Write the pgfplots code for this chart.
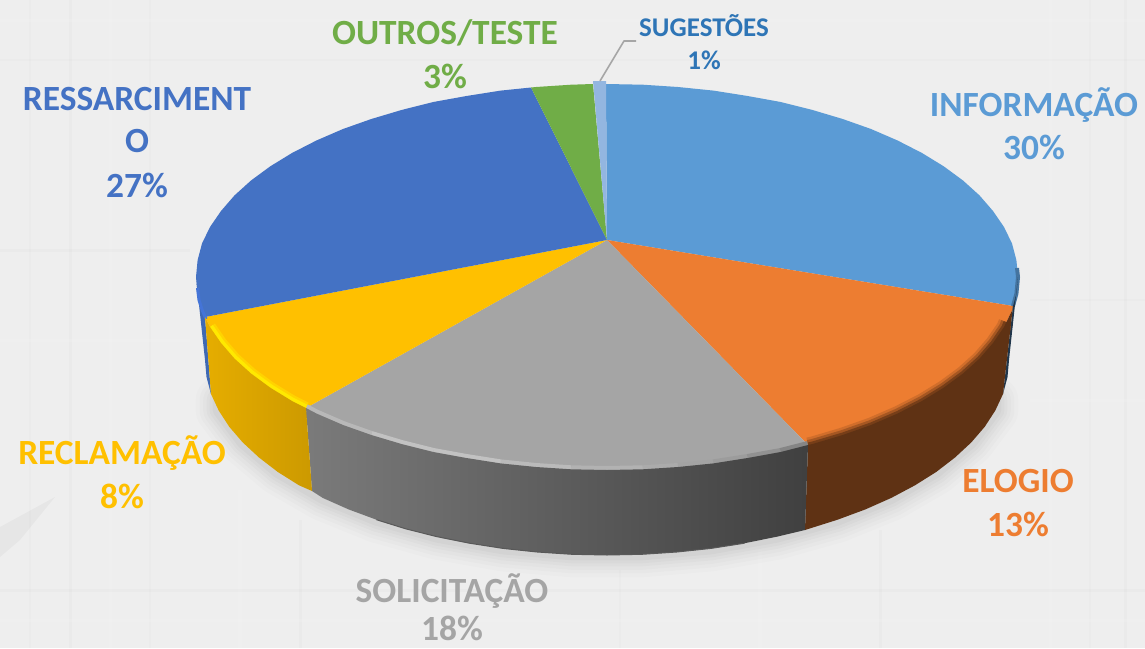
\documentclass[border=0pt]{standalone}
\usepackage{pgfplots}
\pgfplotsset{compat=1.18}
\usepackage{fontspec}
\setmainfont{Carlito}
\definecolor{bgc}{HTML}{EEEEEE}
\definecolor{info}{HTML}{5B9BD5}
\definecolor{oran}{HTML}{ED7D31}
\definecolor{gray1}{HTML}{A5A5A5}
\definecolor{yel}{HTML}{FFC000}
\definecolor{blu}{HTML}{4472C4}
\definecolor{gre}{HTML}{70AD47}
\definecolor{sug}{HTML}{93B6E0}
\definecolor{sugt}{HTML}{2E75B6}
\begin{document}
\begin{tikzpicture}
\useasboundingbox (0,0) rectangle (1145pt,648pt);
\begin{axis}[at={(0,0)},anchor=south west,hide axis,scale only axis,width=1145pt,height=648pt,
  xmin=0,xmax=1145,ymin=0,ymax=648,y dir=reverse,no markers,
  every axis plot/.append style={forget plot,line join=round}]
% background
\addplot[draw=none,fill=bgc] coordinates {(0,0)(1145,0)(1145,648)(0,648)} --cycle;
\addplot[draw=none,fill=black,opacity=.03] coordinates {(0,527)(55,497)(20,540)(0,557)} --cycle;
% faint woven texture
\addplot[black,opacity=.012,line width=2pt] coordinates {(30,0)(30,648)};
\addplot[black,opacity=.015,line width=3pt] coordinates {(70,0)(70,648)};
\addplot[white,opacity=.1,line width=3pt] coordinates {(110,0)(110,648)};
\addplot[black,opacity=.012,line width=2pt] coordinates {(150,0)(150,648)};
\addplot[white,opacity=.1,line width=4pt] coordinates {(240,490)(240,648)};
\addplot[black,opacity=.015,line width=3pt] coordinates {(300,520)(300,648)};
\addplot[black,opacity=.012,line width=2pt] coordinates {(620,570)(620,648)};
\addplot[white,opacity=.1,line width=4pt] coordinates {(760,550)(760,648)};
\addplot[black,opacity=.015,line width=3pt] coordinates {(880,530)(880,648)};
\addplot[white,opacity=.1,line width=3pt] coordinates {(1050,0)(1050,648)};
\addplot[black,opacity=.012,line width=2pt] coordinates {(1090,0)(1090,648)};
\addplot[black,opacity=.015,line width=3pt] coordinates {(1125,0)(1125,648)};
\addplot[black,opacity=.012,line width=2pt] coordinates {(0,60)(1145,60)};
\addplot[white,opacity=.1,line width=3pt] coordinates {(0,20)(1145,20)};
\addplot[black,opacity=.015,line width=3pt] coordinates {(0,250)(190,250)};
\addplot[white,opacity=.1,line width=3pt] coordinates {(0,340)(190,340)};
\addplot[black,opacity=.012,line width=2pt] coordinates {(1030,300)(1145,300)};
\addplot[white,opacity=.1,line width=3pt] coordinates {(1030,400)(1145,400)};
\addplot[black,opacity=.015,line width=3pt] coordinates {(0,590)(1145,590)};
\addplot[white,opacity=.1,line width=3pt] coordinates {(0,620)(1145,620)};
% soft shadow beneath the pie
\addplot[black,opacity=.012,line width=46pt,line cap=round] coordinates {(995.3,400)(995.3,410.5)(971.3,442.4)(936.3,471.9)(891.3,497.9)(837.6,519.7)(776.9,536.7)(711,548.4)(642,554.3)(572,554.3)(503,548.4)(437.1,536.7)(376.4,519.7)(322.7,497.9)(277.7,471.9)(242.7,442.4)(218.7,410.5)(218.7,400)};
\addplot[black,opacity=.014,line width=38pt,line cap=round] coordinates {(995.3,400)(995.3,410.5)(971.3,442.4)(936.3,471.9)(891.3,497.9)(837.6,519.7)(776.9,536.7)(711,548.4)(642,554.3)(572,554.3)(503,548.4)(437.1,536.7)(376.4,519.7)(322.7,497.9)(277.7,471.9)(242.7,442.4)(218.7,410.5)(218.7,400)};
\addplot[black,opacity=.016,line width=31pt,line cap=round] coordinates {(995.3,400)(995.3,410.5)(971.3,442.4)(936.3,471.9)(891.3,497.9)(837.6,519.7)(776.9,536.7)(711,548.4)(642,554.3)(572,554.3)(503,548.4)(437.1,536.7)(376.4,519.7)(322.7,497.9)(277.7,471.9)(242.7,442.4)(218.7,410.5)(218.7,400)};
\addplot[black,opacity=.018,line width=24pt,line cap=round] coordinates {(995.3,400)(995.3,410.5)(971.3,442.4)(936.3,471.9)(891.3,497.9)(837.6,519.7)(776.9,536.7)(711,548.4)(642,554.3)(572,554.3)(503,548.4)(437.1,536.7)(376.4,519.7)(322.7,497.9)(277.7,471.9)(242.7,442.4)(218.7,410.5)(218.7,400)};
\addplot[black,opacity=.02,line width=18pt,line cap=round] coordinates {(995.3,400)(995.3,410.5)(971.3,442.4)(936.3,471.9)(891.3,497.9)(837.6,519.7)(776.9,536.7)(711,548.4)(642,554.3)(572,554.3)(503,548.4)(437.1,536.7)(376.4,519.7)(322.7,497.9)(277.7,471.9)(242.7,442.4)(218.7,410.5)(218.7,400)};
\addplot[black,opacity=.025,line width=12pt,line cap=round] coordinates {(995.3,400)(995.3,410.5)(971.3,442.4)(936.3,471.9)(891.3,497.9)(837.6,519.7)(776.9,536.7)(711,548.4)(642,554.3)(572,554.3)(503,548.4)(437.1,536.7)(376.4,519.7)(322.7,497.9)(277.7,471.9)(242.7,442.4)(218.7,410.5)(218.7,400)};
% top face
\addplot[draw=none,fill=info] coordinates {(607,240)(606,84)(642.8,84.7)(678,87)(713.4,90.6)(747.6,96)(780.7,102)(812.5,110)(842.7,119)(871,129)(897.6,140.5)(922,153)(943.7,166.3)(963,180.5)(979.5,195.4)(993,211)(1004,227)(1012,243.5)(1016.4,260.2)(1018,277)(1016.4,293.8)(1013,306)} --cycle;
\addplot[draw=none,fill=oran] coordinates {(607,240)(1013,306)(1012,310.5)(1004,327)(993,343)(979.5,358.6)(963,373.5)(943.7,387.7)(922,401)(897.6,413.5)(871,425)(842.7,435)(812.5,444)(808,445)} --cycle;
\addplot[draw=none,fill=gray1] coordinates {(607,240)(808,445)(780.7,452)(747.6,458)(713.4,463.4)(678,467)(642.8,469.3)(607,470)(571.2,469.3)(536,467)(500.6,463.4)(466.4,458)(433.3,452)(401.5,444)(371.3,435)(343,425)(316.4,413.5)(306,408)} --cycle;
\addplot[draw=none,fill=yel] coordinates {(607,240)(306,408)(292,401)(270.3,387.7)(251,373.5)(234.5,358.6)(221,343)(210,327)(205,317)} --cycle;
\addplot[draw=none,fill=blu] coordinates {(607,240)(205,317)(202,310.5)(197.6,293.8)(196,277)(197.6,260.2)(202,243.5)(210,227)(221,211)(234.5,195.4)(251,180.5)(270.3,166.3)(292,153)(316.4,140.5)(343,129)(371.3,119)(401.5,110)(433.3,102)(466.4,96)(500.6,90.6)(531,87.5)} --cycle;
\addplot[draw=none,fill=gre] coordinates {(607,240)(531,87.5)(536,87)(571.2,84.7)(593,84)} --cycle;
\addplot[draw=none,fill=sug] coordinates {(607,240)(593,81)(606,81)} --cycle;
% bevel strokes
\addplot[info!75!black,line width=4pt] coordinates {(1017,268)(1018,277)(1016.4,293.8)(1013,306)};
\addplot[oran!88!black,line width=15pt] coordinates {(1006,322)(1004,327)(993,343)(979.5,358.6)(963,373.5)(943.7,387.7)(922,401)(897.6,413.5)(871,425)(842.7,435)(812.5,444)(808,445)};
\addplot[oran!70!black,line width=10pt] coordinates {(1006,322)(1004,327)(993,343)(979.5,358.6)(963,373.5)(943.7,387.7)(922,401)(897.6,413.5)(871,425)(842.7,435)(812.5,444)(808,445)};
\addplot[oran!50!black,line width=5pt] coordinates {(1006,322)(1004,327)(993,343)(979.5,358.6)(963,373.5)(943.7,387.7)(922,401)(897.6,413.5)(871,425)(842.7,435)(812.5,444)(808,445)};
\addplot[color=yel!70!yellow,line width=12pt] coordinates {(306,408)(292,401)(270.3,387.7)(251,373.5)(234.5,358.6)(221,343)(210,327)};
\addplot[color=yel!35!yellow,line width=7pt] coordinates {(306,408)(292,401)(270.3,387.7)(251,373.5)(234.5,358.6)(221,343)(210,327)};
\addplot[black!28,line width=8pt] coordinates {(306,408)(316.4,413.5)(343,425)(371.3,435)};
\addplot[black!24,line width=8pt] coordinates {(371.3,435)(401.5,444)(433.3,452)};
\addplot[black!24,line width=8pt] coordinates {(433.3,452)(466.4,458)(500.6,463.4)};
\addplot[black!27,line width=8pt] coordinates {(500.6,463.4)(536,467)(571.2,469.3)};
\addplot[black!30,line width=8pt] coordinates {(571.2,469.3)(607,470)(642.8,469.3)};
\addplot[black!33,line width=8pt] coordinates {(642.8,469.3)(678,467)};
\addplot[black!36,line width=8pt] coordinates {(678,467)(713.4,463.4)};
\addplot[black!39,line width=8pt] coordinates {(713.4,463.4)(747.6,458)};
\addplot[black!43,line width=8pt] coordinates {(747.6,458)(780.7,452)};
\addplot[black!48,line width=8pt] coordinates {(780.7,452)(808,445)};
% side faces
\addplot[draw=none,fill=blu!92!black] coordinates {(196,277)(197.6,293.8)(202,310.5)(205,317)(211,394)(206.5,377)(205,360)} --cycle;
\addplot[color=blue!25!info!70!blu,line width=3pt] coordinates {(197.5,288)(199,300)(202.5,311)(206,319)};
\addplot[draw=none,fill=info!35!black] coordinates {(1018,277)(1016.4,293.8)(1013,306)(1003,394)(1007.5,377)(1009,360)} --cycle;
\addplot[draw=none,fill=oran!40!black] coordinates {(1013,306)(1012,310.5)(1004,327)(993,343)(979.5,358.6)(963,373.5)(943.7,387.7)(922,401)(897.6,413.5)(871,425)(842.7,435)(812.5,444)(808,445)(805,530)(837.6,519.7)(865.4,509.4)(891.3,497.9)(915,485.3)(936.3,471.9)(955,457.5)(971.3,442.4)(984.8,426.7)(995.3,410.5)(1003,394)} --cycle;
\addplot[draw=none,left color=black!52,right color=black!75] coordinates {(306,408)(316.4,413.5)(343,425)(371.3,435)(401.5,444)(433.3,452)(466.4,458)(500.6,463.4)(536,467)(571.2,469.3)(607,470)(642.8,469.3)(678,467)(713.4,463.4)(747.6,458)(780.7,452)(808,445)(805,530)(776.9,536.7)(744.5,543.2)(711,548.4)(676.8,552)(642,554.3)(607,555)(572,554.3)(537.2,552)(503,548.4)(469.5,543.2)(437.1,536.7)(406,528.9)(376.4,519.7)(348.6,509.4)(322.7,497.9)(312,491)} --cycle;
\addplot[draw=none,left color=yel!90!black,right color=yel!80!black] coordinates {(205,317)(210,327)(221,343)(234.5,358.6)(251,373.5)(270.3,387.7)(292,401)(306,408)(312,491)(299,485.3)(277.7,471.9)(259,457.5)(242.7,442.4)(229.2,426.7)(218.7,410.5)(211,394)} --cycle;
% dark line along the lowest edge of the grey side
\addplot[black!65,line width=1pt] coordinates {(376.4,519.7)(406,528.9)(437.1,536.7)(469.5,543.2)(503,548.4)(537.2,552)(572,554.3)(607,555)(642,554.3)(676.8,552)(711,548.4)(744.5,543.2)};
% leader
\addplot[black!35,line width=1.6pt] coordinates {(600,81)(624,41)(636,41)};
% labels
\begin{scope}[every node/.style={inner sep=0pt,font=\fontsize{35.4}{35.4}\selectfont\bfseries,anchor=center}]
\node[text=info] at (axis cs:1034,105) {INFORMAÇÃO};
\node[text=info] at (axis cs:1034,147) {30\%};
\node[text=oran] at (axis cs:1018,481) {ELOGIO};
\node[text=oran] at (axis cs:1018,524) {13\%};
\node[text=gray1] at (axis cs:452,591) {SOLICITAÇÃO};
\node[text=gray1] at (axis cs:452,628) {18\%};
\node[text=yel] at (axis cs:122,453) {RECLAMAÇÃO};
\node[text=yel] at (axis cs:122,496) {8\%};
\node[text=blu] at (axis cs:137,99) {RESSARCIMENT};
\node[text=blu] at (axis cs:137,141) {O};
\node[text=blu] at (axis cs:137,185) {27\%};
\node[text=gre] at (axis cs:445,33) {OUTROS/TESTE};
\node[text=gre] at (axis cs:445,76) {3\%};
\node[text=sugt,font=\fontsize{27}{27}\selectfont\bfseries] at (axis cs:704,26) {SUGESTÕES};
\node[text=sugt,font=\fontsize{27}{27}\selectfont\bfseries] at (axis cs:704,60) {1\%};
\end{scope}
\end{axis}
\end{tikzpicture}
\end{document}
